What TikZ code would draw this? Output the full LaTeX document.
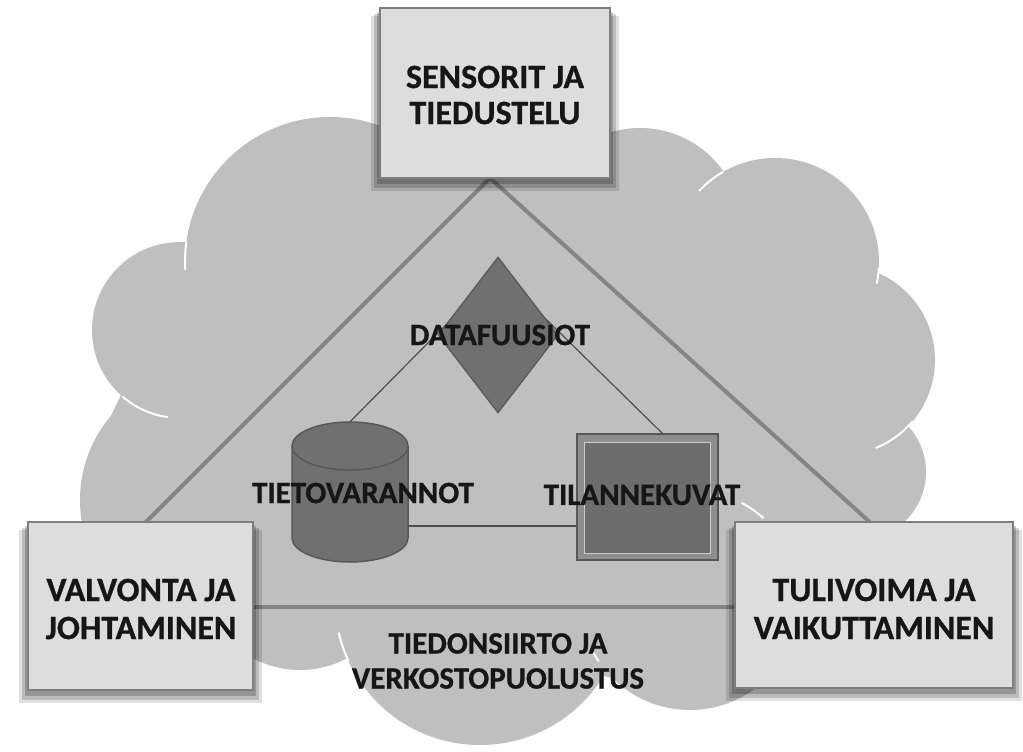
\documentclass[tikz,border=0pt]{standalone}
\usepackage{fontspec}
\setmainfont{Carlito}[BoldFeatures={FakeBold=0.8}]
\usetikzlibrary{shapes.geometric,calc}
\definecolor{cloudc}{HTML}{BFBFBF}
\definecolor{triline}{HTML}{858585}
\definecolor{thinline}{HTML}{4E4E4E}
\definecolor{darkfill}{HTML}{707070}
\definecolor{darkedge}{HTML}{585858}
\definecolor{boxfill}{HTML}{DDDDDD}
\definecolor{boxline}{HTML}{7E7E7E}
\definecolor{txt}{HTML}{161616}
\definecolor{framefill}{HTML}{8E8E8E}
\definecolor{innerfill}{HTML}{6D6D6D}
\tikzset{
  tri/.style={draw=triline, line width=4pt},
  thinl/.style={draw=thinline, line width=1.2pt},
  boxframe/.style={draw=boxline, fill=boxfill, line width=2.5pt},
  whitearc/.style={draw=white, line width=2pt},
  lbltext/.style={text=txt, align=center, inner sep=0pt},
}
\newcommand\lbl[5]{%
  \node[lbltext, font=\fontsize{#3}{#4}\selectfont\bfseries] (#1) at (#2) {#5};}
\newcommand\boxshadow[1]{%
  \fill[black, opacity=0.12] ($(#1.south west)+(-9,13)$) rectangle ($(#1.north east)+(9,8)$);
  \fill[black, opacity=0.16] ($(#1.south west)+(-6,10)$) rectangle ($(#1.north east)+(6,6)$);
  \fill[black, opacity=0.2] ($(#1.south west)+(-3,6)$) rectangle ($(#1.north east)+(3,4)$);}
\begin{document}
\begin{tikzpicture}[x=1pt,y=-1pt]
\useasboundingbox (0,0) rectangle (1023,752);
\fill[white] (0,0) rectangle (1023,752);
% cloud
\fill[cloudc] (330,262) circle[radius=145] (180,330) circle[radius=88]
  (210,500) circle[radius=130] (300,570) circle[radius=100]
  (480,600) circle[radius=145] (690,600) circle[radius=110]
  (858,472) circle[radius=68] (840,360) circle[radius=95]
  (775,262) circle[radius=104] (640,230) circle[radius=102];
\fill[cloudc] (190,250) -- (400,175) -- (620,175) -- (840,270) -- (905,420)
  -- (900,600) -- (700,700) -- (600,675) -- (345,650) -- (290,665) -- (90,460) -- cycle;
% white inner arcs of the cloud
\draw[whitearc] (180,330) ++(131:88) arc[start angle=131, end angle=98, radius=88];
\draw[whitearc] (330,262) ++(188:145) arc[start angle=188, end angle=177, radius=145];
\draw[whitearc] (775,262) ++(240:104) arc[start angle=240, end angle=223, radius=104];
\draw[whitearc] (775,262) ++(3:104) arc[start angle=3, end angle=12, radius=104];
\draw[whitearc] (840,360) ++(40:95) arc[start angle=40, end angle=68, radius=95];
\draw[whitearc] (690,600) ++(-62:110) arc[start angle=-62, end angle=-48, radius=110];
\draw[whitearc] (690,600) ++(146:110) arc[start angle=146, end angle=153, radius=110];
\draw[whitearc] (480,600) ++(167:145) arc[start angle=167, end angle=155, radius=145];
% big triangle
\coordinate (tA) at (490,178);
\coordinate (tL) at (143,525);
\coordinate (tR) at (873,525);
\coordinate (bL) at (250,607);
\coordinate (bR) at (740,607);
\draw[tri] (tL) -- (tA) -- (tR);
\draw[tri] (bL) -- (bR);
% inner shapes (anchors)
\node[minimum width=116pt, minimum height=140pt, inner sep=0pt] (cyl) at (350,492) {};
\node[draw=darkedge, fill=framefill, line width=1.2pt, minimum width=141pt, minimum height=126pt, inner sep=0pt] (sq) at (647.5,497) {};
\coordinate (iA) at (498,272);
\draw[thinl] (cyl.north) -- (iA) -- (663,434);
\draw[thinl] (cyl.east |- 0,526) -- (sq.west |- 0,526);
% diamond
\node[diamond, draw=darkedge, fill=darkfill, line width=1.2pt, minimum width=120pt, minimum height=156pt, inner sep=0pt] (dia) at (498,335) {};
% cylinder
\fill[darkfill] (292,446) -- (292,538) arc[start angle=180, end angle=0, x radius=58, y radius=24] -- (408,446) -- cycle;
\draw[darkedge, line width=1.5pt] (292,446) -- (292,538) arc[start angle=180, end angle=0, x radius=58, y radius=24] -- (408,446);
\draw[darkedge, fill=darkfill, line width=1.5pt] (350,446) ellipse[x radius=58, y radius=24];
% square inner
\draw[fill=innerfill, draw=white!80!black, line width=1.2pt] ($(sq.north west)+(8,9)$) rectangle ($(sq.south east)+(-8,-7)$);
% boxes
\node[minimum width=230pt, minimum height=170pt, inner sep=0pt] (S) at (495,93) {};
\node[minimum width=225pt, minimum height=168pt, inner sep=0pt] (V) at (140.5,606) {};
\node[minimum width=278pt, minimum height=166pt, inner sep=0pt] (T) at (874,605) {};
\boxshadow{S}
\boxshadow{V}
\boxshadow{T}
\draw[boxframe] (S.south west) rectangle (S.north east);
\draw[boxframe] (V.south west) rectangle (V.north east);
\draw[boxframe] (T.south west) rectangle (T.north east);
% labels
\lbl{Slab}{495,95}{34}{36}{SENSORIT JA\\TIEDUSTELU}
\lbl{Vlab}{141,609}{34}{38}{VALVONTA JA\\JOHTAMINEN}
\lbl{Tlab}{874,609}{34}{38}{TULIVOIMA JA\\VAIKUTTAMINEN}
\lbl{Dlab}{500,335}{31}{33}{DATAFUUSIOT}
\lbl{Clab}{363,493}{31}{33}{TIETOVARANNOT}
\lbl{Qlab}{642,495}{31}{33}{TILANNEKUVAT}
\lbl{Nlab}{498,661}{31}{35}{TIEDONSIIRTO JA\\VERKOSTOPUOLUSTUS}
\end{tikzpicture}
\end{document}
